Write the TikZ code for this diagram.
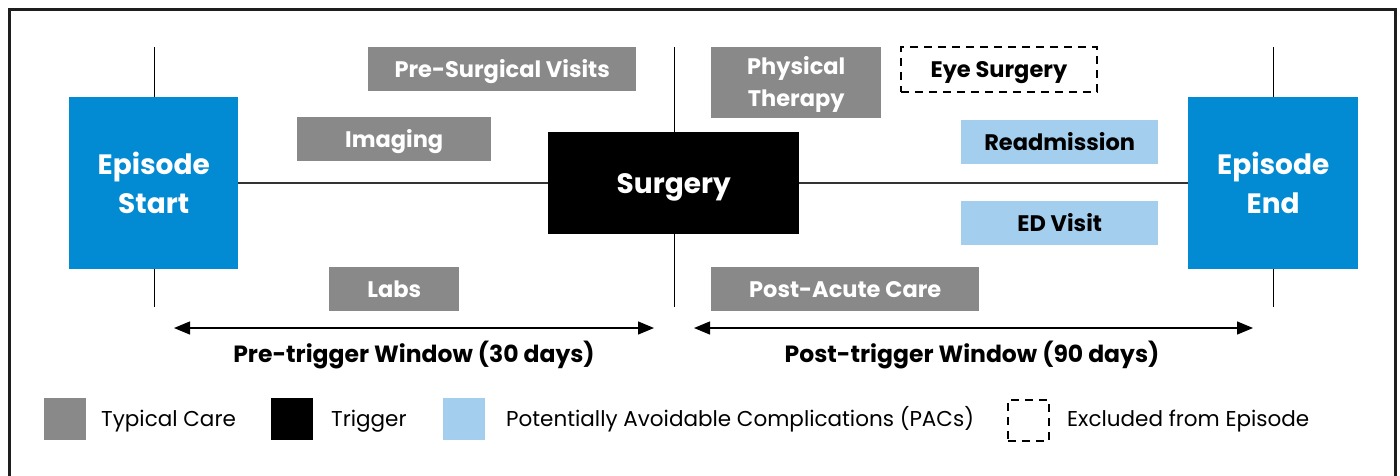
\documentclass[tikz,border=0pt]{standalone}
\usepackage{fontspec}
\setmainfont{Poppins}
\usetikzlibrary{arrows.meta}
\definecolor{epiblue}{RGB}{2,138,210}
\definecolor{caregray}{RGB}{137,137,137}
\definecolor{pacblue}{RGB}{163,206,238}
\definecolor{framec}{RGB}{30,30,30}
\tikzset{
  box/.style={draw=none, inner sep=0pt, anchor=north west, align=center, text centered},
  smalltxt/.style={font=\fontsize{22.5}{26}\selectfont\bfseries, text height=15.8pt, text depth=0pt},
  carebox/.style={box, fill=caregray, text=white, smalltxt},
  pacbox/.style={box, fill=pacblue, text=black, smalltxt},
  epibox/.style={box, fill=epiblue, text=white, font=\fontsize{28}{39}\selectfont\bfseries},
  trigbox/.style={box, fill=black, text=white, font=\fontsize{28}{32}\selectfont\bfseries, text height=19.6pt, text depth=0pt},
  exline/.style={draw=black, dash pattern=on 8pt off 6pt, line width=1.8pt},
  exbox/.style={box, exline, text=black, smalltxt},
  boxtext/.style={inner sep=0pt, align=center, text=white, font=\fontsize{22.5}{32}\selectfont\bfseries},
  tick/.style={draw=black, line width=1pt},
  axis/.style={draw=black!80, line width=1.2pt},
  window/.style={line width=1.3pt, {Triangle[length=16pt,width=13pt]}-{Triangle[length=16pt,width=13pt]}},
  winlabel/.style={font=\fontsize{23.5}{25}\selectfont\bfseries, text height=16.5pt, text depth=0pt, inner sep=0pt},
  legtext/.style={anchor=west, font=\fontsize{21.5}{25}\selectfont, inner sep=0pt, text height=15pt, text depth=0pt},
  legsq/.style={inner sep=0pt, anchor=north west, minimum width=42pt, minimum height=42pt},
}
\begin{document}
\begin{tikzpicture}[x=1pt,y=-1pt]
\useasboundingbox[fill=white] (0,0) rectangle (1400,475);
% frame (open at bottom)
\draw[framec, line width=3pt] (9,480) -- (9,9) -- (1395,9) -- (1395,480);

% tick lines
\coordinate (t1a) at (154,47); \coordinate (t1b) at (154,307);
\coordinate (t2a) at (674,47); \coordinate (t2b) at (674,307);
\coordinate (t3a) at (1273,47); \coordinate (t3b) at (1273,307);
\draw[tick] (t1a) -- (t1b);
\draw[tick] (t2a) -- (t2b);
\draw[tick] (t3a) -- (t3b);

% main nodes
\node[epibox, minimum width=169pt, minimum height=172pt] (start) at (69,97) {Episode\\Start};
\node[epibox, minimum width=170pt, minimum height=172pt] (end) at (1188,97) {Episode\\End};
\node[trigbox, minimum width=251pt, minimum height=102pt] (surg) at (548,132) {Surgery};

\draw[axis] (start.east |- 0,183) -- (surg.west |- 0,183);
\draw[axis] (surg.east |- 0,183) -- (end.west |- 0,183);

% care boxes
\node[carebox, minimum width=268pt, minimum height=44pt] (psv) at (368,47) {Pre-Surgical Visits};
\node[carebox, minimum width=194pt, minimum height=44pt] (img) at (297,117) {Imaging};
\node[carebox, minimum width=130pt, minimum height=44pt] (labs) at (329,267) {Labs};
\node[box, fill=caregray, minimum width=170pt, minimum height=71pt] (pt) at (711,47) {};
\node[boxtext] (ptt) at ([yshift=-2pt]pt.center) {Physical\\Therapy};
\node[carebox, minimum width=268pt, minimum height=44pt] (pac) at (711,267) {Post-Acute Care};
\node[exbox, minimum width=196pt, minimum height=45pt] (eye) at (900,46) {Eye Surgery};
\node[pacbox, minimum width=197pt, minimum height=44pt] (readm) at (961,120) {Readmission};
\node[pacbox, minimum width=197pt, minimum height=44pt] (ed) at (961,201) {ED Visit};

% windows
\coordinate (w1a) at (174,328); \coordinate (w1b) at (654,328);
\coordinate (w2a) at (694,328); \coordinate (w2b) at (1253,328);
\draw[window] (w1a) -- (w1b);
\draw[window] (w2a) -- (w2b);
\node[winlabel] (w1l) at (414,354) {Pre-trigger Window (30 days)};
\node[winlabel] (w2l) at (972,354) {Post-trigger Window (90 days)};

% legend
\node[legsq, fill=caregray] (lg1) at (44,398) {};
\node[legtext] (lt1) at (101,419) {Typical Care};
\node[legsq, fill=black] (lg2) at (271,398) {};
\node[legtext] (lt2) at (331,419) {Trigger};
\node[legsq, fill=pacblue] (lg3) at (443,398) {};
\node[legtext] (lt3) at (506,419) {Potentially Avoidable Complications (PACs)};
\node[legsq, exline, minimum width=41pt, minimum height=41pt] (lg4) at (1007,399) {};
\node[legtext] (lt4) at (1067,419) {Excluded from Episode};
\end{tikzpicture}
\end{document}
